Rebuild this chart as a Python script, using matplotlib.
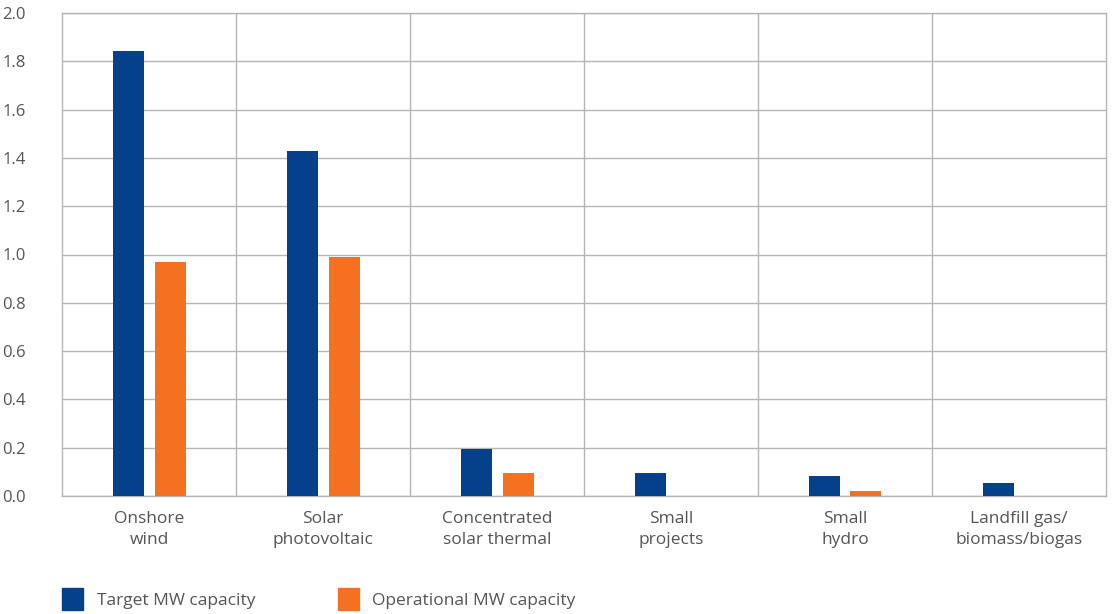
import matplotlib
matplotlib.use("Agg")
import matplotlib.pyplot as plt
from matplotlib.patches import Rectangle
import numpy as np

categories = ["Onshore\nwind", "Solar\nphotovoltaic", "Concentrated\nsolar thermal",
              "Small\nprojects", "Small\nhydro", "Landfill gas/\nbiomass/biogas"]
target_mw = [1.843, 1.429, 0.195, 0.095, 0.083, 0.054]
operational_mw = [0.969, 0.990, 0.095, 0.0, 0.021, 0.0]
series_names = ["Target MW capacity", "Operational MW capacity"]
y_ticks = [0.0, 0.2, 0.4, 0.6, 0.8, 1.0, 1.2, 1.4, 1.6, 1.8, 2.0]

BLUE = "#04418A"
ORANGE = "#F47122"
GRID = "#b5b5b5"
TEXT = "#555555"
FS = 12.5

plt.rcParams["font.family"] = ["Open Sans", "DejaVu Sans"]

fig = plt.figure(figsize=(11.13, 6.14), dpi=100)
ax = fig.add_axes([62 / 1113, 1 - 496 / 614, (1106 - 62) / 1113, (496 - 13) / 614])

n = len(categories)
x = np.arange(n)
width = 31 / 174
offset = 21 / 174
ax.bar(x - offset, target_mw, width, color=BLUE, zorder=3)
ax.bar(x + offset, operational_mw, width, color=ORANGE, zorder=3)

ax.set_xlim(-0.5, n - 0.5)
ax.set_ylim(0, 2.0)
ax.set_yticks(y_ticks)
ax.set_yticklabels([f"{t:.1f}" for t in y_ticks], fontsize=12, color=TEXT)
ax.set_xticks(x)
ax.set_xticklabels(categories, fontsize=FS, color=TEXT, linespacing=1.4)
ax.tick_params(axis="both", length=0)
ax.tick_params(axis="y", pad=26)
ax.tick_params(axis="x", pad=11)
for lbl in ax.get_yticklabels():
    lbl.set_horizontalalignment("right")

# horizontal gridlines and category separators
ax.grid(axis="y", color=GRID, linewidth=1.0, zorder=0)
for b in np.arange(0.5, n - 0.5, 1.0):
    ax.axvline(b, color=GRID, linewidth=1.0, zorder=0)
for s in ax.spines.values():
    s.set_color(GRID)
    s.set_linewidth(1.0)

# legend drawn as squares with labels below the axes
fig.add_artist(Rectangle((62 / 1113, 1 - 610 / 614), 21 / 1113, 22 / 614,
                         transform=fig.transFigure, color=BLUE))
fig.text(97 / 1113, 1 - 601 / 614, series_names[0], fontsize=FS, color=TEXT, va="center")
fig.add_artist(Rectangle((338 / 1113, 1 - 610 / 614), 21 / 1113, 22 / 614,
                         transform=fig.transFigure, color=ORANGE))
fig.text(372 / 1113, 1 - 601 / 614, series_names[1], fontsize=FS, color=TEXT, va="center")

fig.savefig("out.png", dpi=100, facecolor="white")
